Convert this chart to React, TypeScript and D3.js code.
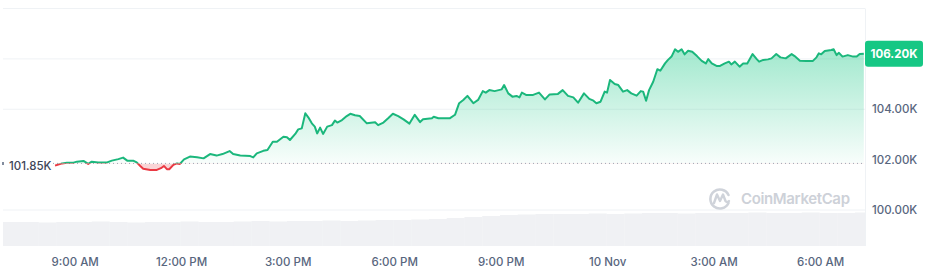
import React from "react";
import * as d3 from "d3";

// minutes since 9 Nov 00:00
const times = [506,518,526,537,543,554,562,568,579,594,602,613,621,628,638,644,650,655,667,678,685,690,695,699,706,712,717,724,734,746,757,768,779,789,801,807,819,836,841,847,858,865,874,881,892,898,903,912,917,923,929,934,940,945,949,954,959,966,974,979,983,991,999,1005,1013,1021,1033,1047,1052,1061,1069,1077,1086,1095,1105,1114,1123,1128,1143,1146,1154,1173,1182,1189,1196,1203,1213,1221,1229,1234,1240,1249,1261,1265,1272,1279,1286,1291,1295,1302,1314,1324,1334,1342,1356,1364,1373,1382,1390,1400,1409,1416,1421,1428,1435,1439,1444,1452,1458,1466,1473,1480,1489,1496,1500,1505,1510,1517,1524,1529,1537,1542,1548,1554,1559,1565,1570,1576,1583,1591,1599,1606,1610,1616,1624,1630,1638,1645,1649,1655,1663,1669,1676,1685,1692,1696,1703,1711,1717,1725,1732,1741,1751,1756,1765,1776,1787,1793,1797,1801,1807,1818,1822,1827,1831,1837,1846,1855,1861,1866,1873];
// price in thousands USD
const prices = [101.76,101.85,101.88,101.88,101.92,101.95,101.83,101.92,101.89,101.89,101.96,102.02,102.08,101.96,101.96,101.89,101.75,101.64,101.59,101.59,101.66,101.75,101.62,101.62,101.79,101.85,101.83,102.01,102.12,102.09,102.05,102.22,102.16,102.22,102.34,102.22,102.16,102.14,102.09,102.25,102.35,102.38,102.71,102.71,102.91,102.89,102.78,103.02,103.20,103.24,103.84,103.68,103.44,103.31,103.04,103.27,103.02,103.31,103.37,103.55,103.47,103.57,103.73,103.82,103.76,103.73,103.44,103.48,103.37,103.47,103.64,103.82,103.73,103.60,103.43,103.78,103.49,103.60,103.64,103.70,103.64,103.64,103.78,104.24,104.37,104.53,104.24,104.37,104.72,104.66,104.76,104.72,104.79,104.96,104.63,104.50,104.53,104.47,104.66,104.57,104.57,104.66,104.39,104.59,104.61,104.76,104.53,104.47,104.26,104.63,104.41,104.34,104.24,104.30,104.70,104.66,105.16,105.00,104.96,104.70,104.76,104.63,104.54,104.72,104.70,104.34,104.76,105.09,105.59,105.53,105.82,105.96,106.09,106.38,106.28,106.38,106.18,106.32,106.28,106.11,105.92,105.82,105.99,105.82,105.72,105.72,105.82,105.89,105.78,105.89,105.69,105.82,105.82,106.19,105.99,105.89,105.96,105.98,106.02,106.19,106.06,106.02,106.19,106.11,105.93,105.92,105.92,106.06,106.22,106.18,106.31,106.35,106.38,106.15,106.24,106.09,106.15,106.09,106.09,106.19,106.20];
// 30-minute volume buckets starting at minute 418 (relative units)
const volumes = [24,24,23.5,24,24,24.5,24,23.5,24,24,24.5,24,24,24.5,25,24.5,25,25,25.5,25,25.5,26,26,26.5,27,28,29,30,31,31.5,32,32,32,32.5,32,32.5,33,33,32.5,33,33,33,33.5,33,33,33.5,33,33,33.5];
const volumeStart = 418;
const volumeStep = 30;

const referencePrice = 101.85;
const lastPrice = 106.2;
const gridValues = [100, 104, 106, 108];
const yTickValues = [100, 102, 104];
const xTickTimes = [540, 720, 900, 1080, 1260, 1440, 1620, 1800];
const xTickLabels = ["9:00 AM", "12:00 PM", "3:00 PM", "6:00 PM", "9:00 PM", "10 Nov", "3:00 AM", "6:00 AM"];
const domainMinutes = [418, 1875];

const toDate = (m: number) => new Date(2024, 10, 9, 0, m);

const W = 937;
const H = 272;
const GREEN = "#16c784";
const LINE_GREEN = "#1bb77c";
const RED = "#ea3943";
const FONT = "Inter, 'Noto Sans', sans-serif";

export default function App() {
  const x = d3.scaleTime().domain(domainMinutes.map(toDate) as [Date, Date]).range([3, 865]);
  const y = d3.scaleLinear().domain([100, 108]).range([210, 8.5]);
  const vy = d3.scaleLinear().domain([0, 40]).range([246, 206]);

  const data = times.map((t, i) => ({ t: toDate(t), p: prices[i] }));
  const yBase = y(referencePrice);

  const line = d3.line<{ t: Date; p: number }>().x((d) => x(d.t)).y((d) => y(d.p));
  const area = d3
    .area<{ t: Date; p: number }>()
    .x((d) => x(d.t))
    .y0(yBase)
    .y1((d) => y(d.p));

  const linePath = line(data) || "";
  const areaPath = area(data) || "";
  const topY = y(d3.max(prices) as number);

  return (
    <svg width={W} height={H} style={{ position: "absolute", left: 0, top: 0, background: "#fff" }} fontFamily={FONT}>
      <defs>
        <linearGradient id="gGreen" gradientUnits="userSpaceOnUse" x1="0" x2="0" y1={topY} y2={yBase}>
          <stop offset="0" stopColor={GREEN} stopOpacity={0.4} />
          <stop offset="1" stopColor={GREEN} stopOpacity={0.03} />
        </linearGradient>
        <clipPath id="above">
          <rect x={0} y={0} width={W} height={yBase} />
        </clipPath>
        <clipPath id="below">
          <rect x={0} y={yBase} width={W} height={H - yBase} />
        </clipPath>
        <clipPath id="plot">
          <rect x={3} y={0} width={862} height={H} />
        </clipPath>
      </defs>

      {/* volume */}
      <g clipPath="url(#plot)">
        {volumes.map((v, i) => {
          const x0 = x(toDate(volumeStart + i * volumeStep));
          const x1 = x(toDate(volumeStart + (i + 1) * volumeStep));
          return <rect key={i} x={x0} y={vy(v)} width={Math.max(0, x1 - x0 + 0.3)} height={vy(0) - vy(v)} fill="#f0f1f4" />;
        })}
      </g>

      {/* gridlines */}
      {gridValues.map((g) => (
        <line key={g} x1={3} x2={865} y1={y(g)} y2={y(g)} stroke="#eff2f5" strokeWidth={1} />
      ))}
      <line x1={865.5} x2={865.5} y1={y(108)} y2={246} stroke="#eff2f5" strokeWidth={1} />

      {/* watermark */}
      <g>
        <path
          d="M 728.5 203 A 9.5 9.5 0 1 1 728.5 195"
          fill="none"
          stroke="#cfd3da"
          strokeWidth={2.6}
          strokeLinecap="round"
        />
        <path d="M 714 203 L 717 194.5 L 720 201 L 723 194.5 L 725.5 201 Q 727 203 729 201" fill="none" stroke="#cfd3da" strokeWidth={2.4} strokeLinejoin="round" strokeLinecap="round" />
        <text x={741} y={204} fontSize={15} fontWeight={600} fill="#cdd1d8" textLength={109}>
          CoinMarketCap
        </text>
      </g>

      {/* areas */}
      <path d={areaPath} fill="url(#gGreen)" clipPath="url(#above)" />
      <path d={areaPath} fill={RED} fillOpacity={0.22} clipPath="url(#below)" />

      {/* reference dotted line */}
      <line x1={53} x2={865} y1={yBase} y2={yBase} stroke="#9ea4b3" strokeWidth={1} strokeDasharray="1 3" />
      <line x1={3} x2={3} y1={yBase - 1.5} y2={yBase + 1.5} stroke="#58667e" strokeWidth={1.5} />
      <text x={9} y={yBase + 3} dy="0.35em" fontSize={11.5} fill="#3e4557" fontWeight={500}>
        {referencePrice.toFixed(2)}K
      </text>

      {/* price line */}
      <path d={linePath} fill="none" stroke={LINE_GREEN} strokeWidth={2} strokeLinejoin="round" clipPath="url(#above)" />
      <path d={linePath} fill="none" stroke={RED} strokeWidth={2} strokeLinejoin="round" clipPath="url(#below)" />

      {/* y axis labels */}
      {yTickValues.map((v) => (
        <text key={v} x={872} y={y(v)} dy="0.35em" fontSize={11.5} fill="#58667e" fontWeight={500}>
          {v.toFixed(2)}K
        </text>
      ))}

      {/* last price badge */}
      <rect x={865} y={y(lastPrice) - 13} width={58} height={26} rx={3} fill={GREEN} />
      <text x={894} y={y(lastPrice)} dy="0.35em" fontSize={11.5} fontWeight={700} fill="#fff" textAnchor="middle">
        {lastPrice.toFixed(2)}K
      </text>

      {/* x axis labels */}
      {xTickTimes.map((t, i) => (
        <text key={t} x={x(toDate(t))} y={262} dy="0.35em" fontSize={11.5} fill="#58667e" textAnchor="middle" fontWeight={500}>
          {xTickLabels[i]}
        </text>
      ))}
    </svg>
  );
}
